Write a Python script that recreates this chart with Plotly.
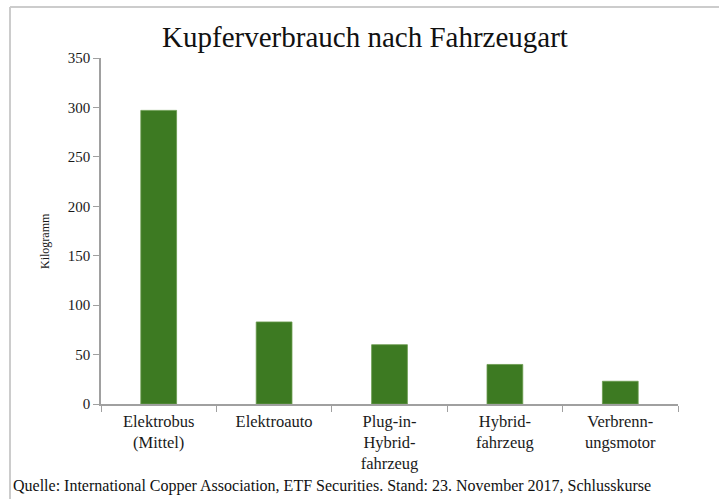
import plotly.graph_objects as go

categories = ["Elektrobus<br>(Mittel)", "Elektroauto", "Plug-in-<br>Hybrid-<br>fahrzeug", "Hybrid-<br>fahrzeug", "Verbrenn-<br>ungsmotor"]
values = [297, 83, 60, 40, 23]
y_ticks = [0, 50, 100, 150, 200, 250, 300, 350]

W, H = 719, 499
L, R, T, B = 101, 678, 58, 404

def px(x):
    return (x - L) / (R - L)

def py(y):
    return (B - y) / (B - T)

serif = "Liberation Serif"

fig = go.Figure(go.Bar(
    x=categories, y=values,
    marker=dict(color="#3d7a22", line=dict(color="#6a9a4e", width=0.8)),
    width=0.31,
))

fig.update_layout(
    width=W, height=H,
    margin=dict(l=L, r=W - R, t=T, b=H - B),
    paper_bgcolor="white", plot_bgcolor="white",
    showlegend=False,
    font=dict(family=serif, color="#1a1a1a"),
    title=dict(text="Kupferverbrauch nach Fahrzeugart", x=px(365), xanchor="center", xref="paper",
               y=1 - 37 / H, yanchor="middle",
               font=dict(size=29, family=serif, color="#111")),
    xaxis=dict(showline=True, linecolor="#a0a0a0", linewidth=1.5,
               ticks="outside", tickson="boundaries", ticklen=6, tickcolor="#a0a0a0",
               ticklabelstandoff=1,
               tickfont=dict(size=16.5, family=serif, color="#1a1a1a"),
               showgrid=False),
    yaxis=dict(range=[0, 350], tickvals=y_ticks, showline=True, linecolor="#a0a0a0", linewidth=1.5,
               ticks="outside", ticklen=6, tickcolor="#a0a0a0", showgrid=False, zeroline=False,
               tickfont=dict(size=15, family=serif, color="#1a1a1a")),
)

fig.add_annotation(text="Kilogramm", xref="paper", yref="paper", x=px(45), y=py(241),
                   textangle=-90, showarrow=False, xanchor="center", yanchor="middle",
                   font=dict(size=12, family=serif, color="#1a1a1a"))

fig.add_shape(type="line", xref="paper", yref="paper",
              x0=px(10), x1=px(719), y0=py(7), y1=py(7),
              line=dict(color="#cccccc", width=2))
fig.add_shape(type="line", xref="paper", yref="paper",
              x0=px(10), x1=px(10), y0=py(7), y1=py(499),
              line=dict(color="#cccccc", width=2))

fig.add_annotation(text="Quelle: International Copper Association, ETF Securities. Stand: 23. November 2017, Schlusskurse",
                   xref="paper", yref="paper", x=px(11), y=py(486), xanchor="left", yanchor="middle",
                   showarrow=False, font=dict(size=16, family=serif, color="#111"))

fig.write_html("out.html", config={"displayModeBar": False},
               post_script="document.body.style.margin='0';document.body.style.overflow='hidden';")
